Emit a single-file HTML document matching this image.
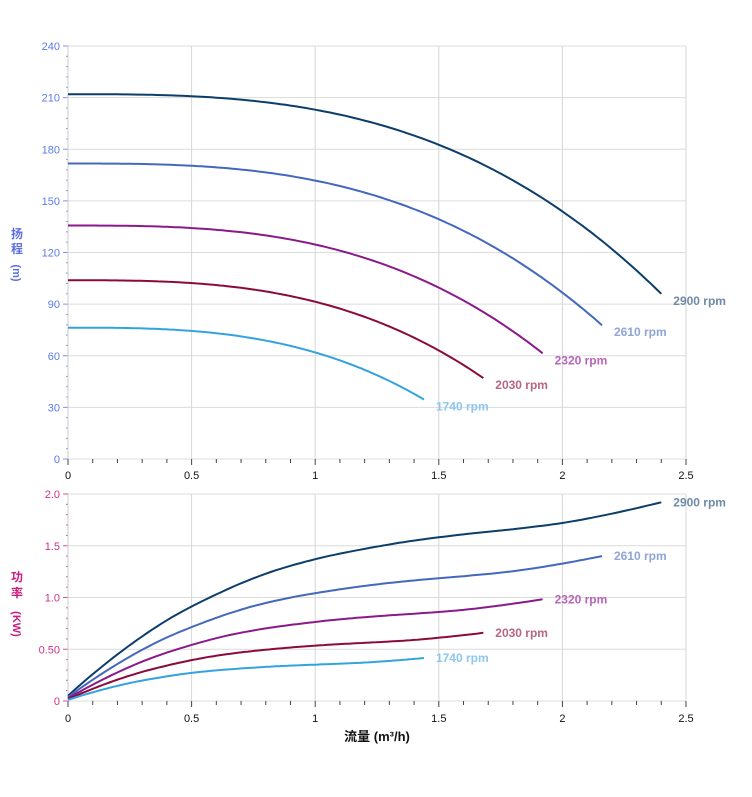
<!DOCTYPE html>
<html><head><meta charset="utf-8"><style>
body{margin:0;background:#fff;}
svg{display:block;font-family:"Liberation Sans","Noto Sans CJK SC",sans-serif;}
</style></head><body>
<svg id="s" width="752" height="797" xmlns="http://www.w3.org/2000/svg"></svg>
<script>
var s=document.getElementById('s'),h='';
var X0=68,XS=247.2;
function X(q){return X0+q*XS;}
function YT(v){return 459-v*413/240;}
function YB(v){return 701-v*103.5;}
for(var i=0;i<=8;i++){var y=YT(i*30);h+='<line x1="68" x2="686" y1="'+y+'" y2="'+y+'" stroke="#dcdcdc"/>';
 h+='<text x="60" y="'+(y+4)+'" font-size="11" fill="#5b7be8" text-anchor="end">'+(i*30)+'</text>';}
for(var i=0;i<=4;i++){var y=YB(i*0.5);h+='<line x1="68" x2="686" y1="'+y+'" y2="'+y+'" stroke="#dcdcdc"/>';
 h+='<text x="60" y="'+(y+4)+'" font-size="11" fill="#d0308f" text-anchor="end">'+['0','0.50','1.0','1.5','2.0'][i]+'</text>';}
for(var i=0;i<=5;i++){var x=X(i*0.5);
 h+='<line x1="'+x+'" x2="'+x+'" y1="46" y2="459" stroke="#d6d6d6"/>';
 h+='<line x1="'+x+'" x2="'+x+'" y1="494" y2="701" stroke="#d6d6d6"/>';
 var l=['0','0.5','1','1.5','2','2.5'][i];
 h+='<text x="'+x+'" y="479" font-size="11" fill="#111" text-anchor="middle">'+l+'</text>';
 h+='<text x="'+x+'" y="722" font-size="11" fill="#111" text-anchor="middle">'+l+'</text>';}
for(var i=0;i<=25;i++){var x=X(i*0.1);
 h+='<line x1="'+x+'" x2="'+x+'" y1="459" y2="'+(i%5?463:465)+'" stroke="#444"/>';
 h+='<line x1="'+x+'" x2="'+x+'" y1="701" y2="'+(i%5?705:707)+'" stroke="#444"/>';}
for(var i=0;i<=40;i++){var y=YT(i*6);h+='<line x1="'+(i%5?66:63)+'" x2="68" y1="'+y+'" y2="'+y+'" stroke="#7b93ee"/>';}
for(var i=0;i<=20;i++){var y=YB(i*0.1);h+='<line x1="'+(i%5?66:63)+'" x2="68" y1="'+y+'" y2="'+y+'" stroke="#d0509f"/>';}
h+='<line x1="68" x2="68" y1="46" y2="459" stroke="#ccc"/><line x1="68" x2="68" y1="494" y2="701" stroke="#ccc"/>';
function H(q){return 212-9*Math.pow(q,2.92);}
var PT=[0.05,0.45,0.78,1.03,1.23,1.37,1.47,1.55,1.61,1.66,1.72,1.81,1.92];
function P(q){var t=q/0.2,i=Math.min(11,Math.floor(t)),f=t-i;
 var p0=PT[Math.max(0,i-1)],p1=PT[i],p2=PT[i+1],p3=PT[Math.min(12,i+2)];
 if(i==0)p0=p1-(p2-p1)*1.2;
 if(i==11)p3=p2+(p2-p1)*1.1;
 return 0.5*((2*p1)+(-p0+p2)*f+(2*p0-5*p1+4*p2-p3)*f*f+(-p0+3*p1-3*p2+p3)*f*f*f);}
var S=[[1,'#0d3d6b','#6f8aa6','2900 rpm'],[0.9,'#4468bd','#8fa5d8','2610 rpm'],[0.8,'#8a1a8c','#b765b9','2320 rpm'],[0.7,'#8a0a3c','#b86680','2030 rpm'],[0.6,'#35a2e0','#8cc7ee','1740 rpm']];
S.forEach(function(c){var r=c[0],qm=2.4*r,a='',b='';
 for(var k=0;k<=120;k++){var q=qm*k/120;
  a+=(k?'L':'M')+X(q).toFixed(1)+','+YT(r*r*H(q/r)).toFixed(1);
  b+=(k?'L':'M')+X(q).toFixed(1)+','+YB(r*r*r*P(q/r)).toFixed(1);}
 h+='<path d="'+a+'" fill="none" stroke="'+c[1]+'" stroke-width="2"/>';
 h+='<path d="'+b+'" fill="none" stroke="'+c[1]+'" stroke-width="2"/>';
 var xe=X(qm)+12;
 h+='<text x="'+xe+'" y="'+(YT(r*r*H(2.4))+11)+'" font-size="12" font-weight="bold" fill="'+c[2]+'">'+c[3]+'</text>';
 h+='<text x="'+xe+'" y="'+(YB(r*r*r*1.92)+4)+'" font-size="12" font-weight="bold" fill="'+c[2]+'">'+c[3]+'</text>';
});
h+='<text x="17" y="238" font-size="12" font-weight="bold" fill="#5b6fe0" text-anchor="middle">扬</text><text x="17" y="253" font-size="12" font-weight="bold" fill="#5b6fe0" text-anchor="middle">程</text>';
h+='<text transform="translate(13,273) rotate(90)" font-size="11" font-weight="bold" fill="#5b6fe0" text-anchor="middle">(m)</text>';
h+='<text x="17" y="581" font-size="12" font-weight="bold" fill="#c8207f" text-anchor="middle">功</text><text x="17" y="597" font-size="12" font-weight="bold" fill="#c8207f" text-anchor="middle">率</text>';
h+='<text transform="translate(13,624) rotate(90)" font-size="11" font-weight="bold" fill="#c8207f" text-anchor="middle">(KW)</text>';
h+='<text x="377" y="741" font-size="13" font-weight="bold" fill="#111" text-anchor="middle">流量 (m³/h)</text>';
s.innerHTML=h;
</script>
</body></html>
